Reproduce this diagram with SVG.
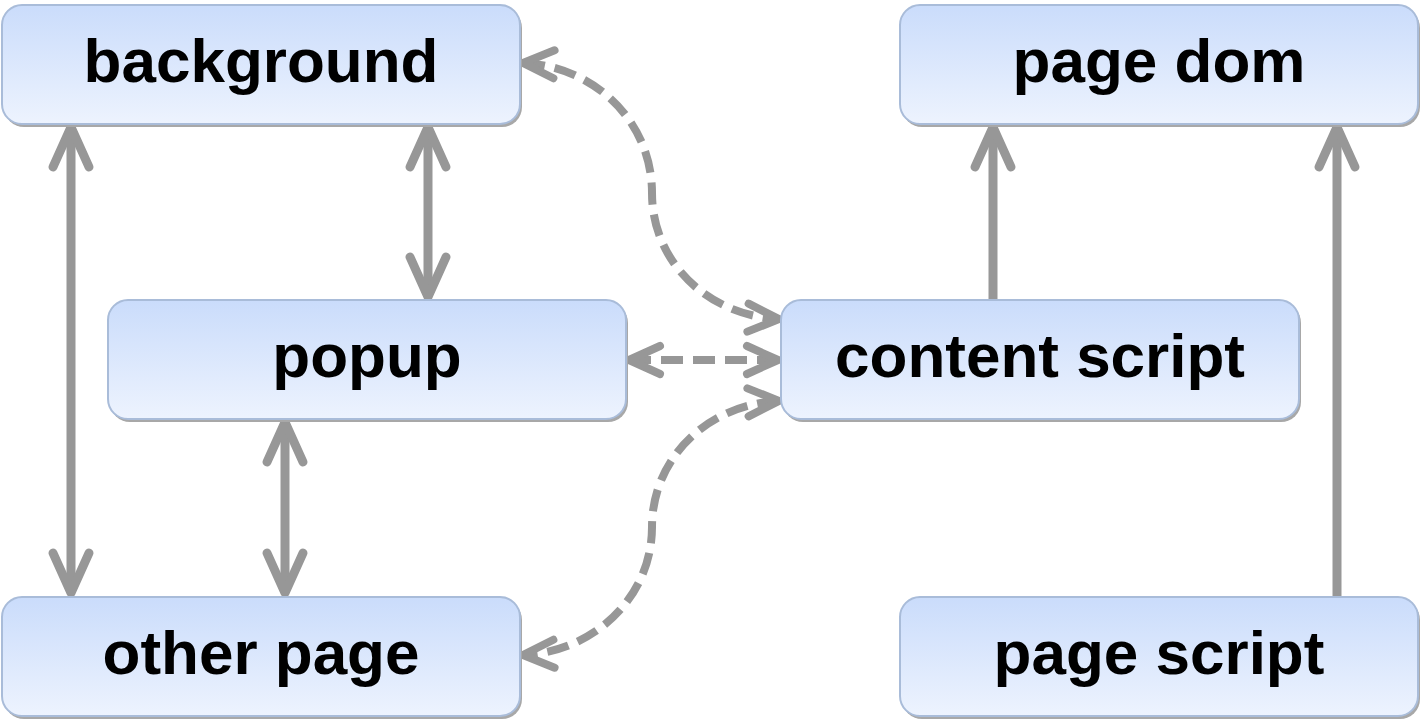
<svg xmlns="http://www.w3.org/2000/svg" width="1420" height="728" viewBox="0 0 1420 728">
<style>
.box{fill:url(#g);stroke:#a9bcd9;stroke-width:2}
.sh{fill:#a8a8a8}
.t{font-family:"Liberation Sans",Arial,sans-serif;font-weight:bold;font-size:62px;fill:#000;text-anchor:middle}
.c{fill:none;stroke:#979797;stroke-width:9}
.d{stroke-width:8;stroke-dasharray:22 10}
</style>
<defs>
<linearGradient id="g" x1="0" y1="0" x2="0" y2="1">
<stop offset="0" stop-color="#cadcfb"/>
<stop offset="1" stop-color="#edf3fe"/>
</linearGradient>
<marker id="a" markerUnits="userSpaceOnUse" markerWidth="80" markerHeight="80" viewBox="-60 -40 80 80" refX="0" refY="0" orient="auto-start-reverse" overflow="visible">
<path d="M-40,-18 L0,0 L-40,18" fill="none" stroke="#979797" stroke-width="9" stroke-linecap="round" stroke-linejoin="round" stroke-dasharray="none"/>
</marker>
<marker id="b" markerUnits="userSpaceOnUse" markerWidth="80" markerHeight="80" viewBox="-60 -40 80 80" refX="0" refY="0" orient="auto-start-reverse" overflow="visible">
<path d="M-31,-14 L0,0 L-31,14" fill="none" stroke="#979797" stroke-width="8" stroke-linecap="round" stroke-linejoin="round" stroke-dasharray="none"/>
</marker>
</defs>
<rect width="1420" height="728" fill="#fff"/>
<g id="connectors">
<line class="c" x1="71" y1="127" x2="71" y2="593" marker-start="url(#a)" marker-end="url(#a)"/>
<line class="c" x1="428" y1="127" x2="428" y2="297" marker-start="url(#a)" marker-end="url(#a)"/>
<line class="c" x1="285" y1="422" x2="285" y2="593" marker-start="url(#a)" marker-end="url(#a)"/>
<line class="c" x1="993" y1="300" x2="993" y2="127" marker-end="url(#a)"/>
<line class="c" x1="1337" y1="597" x2="1337" y2="127" marker-end="url(#a)"/>
<path class="c d" d="M523,63 C594,66 652,121 652,193 C652,263 709,316 779,319" marker-start="url(#b)" marker-end="url(#b)"/>
<line class="c d" x1="629" y1="360" x2="778" y2="360" marker-start="url(#b)" marker-end="url(#b)"/>
<path class="c d" d="M779,401 C709,404 652,457 652,527 C652,597 594,652 523,655" marker-start="url(#b)" marker-end="url(#b)"/>
</g>
<g id="background">
<rect class="sh" x="4" y="8" width="518" height="119" rx="20"/>
<rect class="box" x="2" y="5" width="518" height="119" rx="20"/>
<text class="t" x="261" y="82">background</text>
</g>
<g id="page-dom">
<rect class="sh" x="902" y="8" width="518" height="119" rx="20"/>
<rect class="box" x="900" y="5" width="518" height="119" rx="20"/>
<text class="t" x="1159" y="82">page dom</text>
</g>
<g id="popup">
<rect class="sh" x="110" y="303" width="518" height="119" rx="20"/>
<rect class="box" x="108" y="300" width="518" height="119" rx="20"/>
<text class="t" x="367" y="377">popup</text>
</g>
<g id="content-script">
<rect class="sh" x="783" y="303" width="518" height="119" rx="20"/>
<rect class="box" x="781" y="300" width="518" height="119" rx="20"/>
<text class="t" x="1040" y="377">content script</text>
</g>
<g id="other-page">
<rect class="sh" x="4" y="600" width="518" height="119" rx="20"/>
<rect class="box" x="2" y="597" width="518" height="119" rx="20"/>
<text class="t" x="261" y="674">other page</text>
</g>
<g id="page-script">
<rect class="sh" x="902" y="600" width="518" height="119" rx="20"/>
<rect class="box" x="900" y="597" width="518" height="119" rx="20"/>
<text class="t" x="1159" y="674">page script</text>
</g>
</svg>
